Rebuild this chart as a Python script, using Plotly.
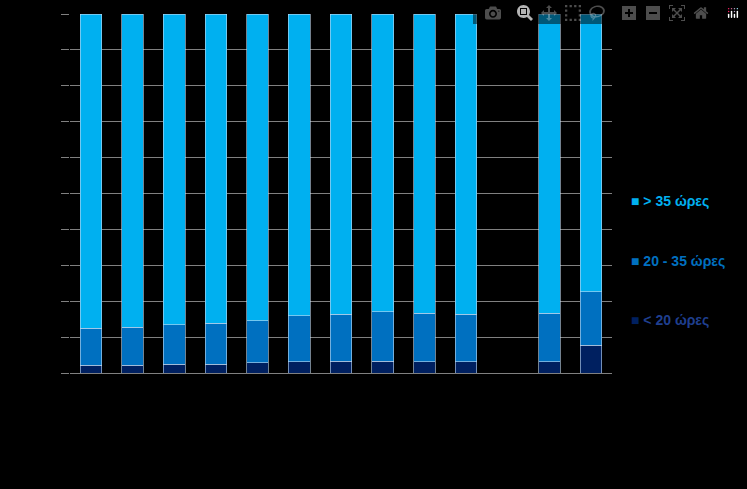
import plotly.graph_objects as go

cats = [str(i) for i in range(1, 14)]
under20 = [2.2, 2.2, 2.5, 2.5, 2.8, 3.1, 3.3, 3.3, 3.1, 3.1, None, 3.1, 7.8]
mid = [10.3, 10.6, 10.9, 11.4, 11.7, 12.8, 13.1, 13.7, 13.6, 13.3, None, 13.6, 14.8]
over35 = [None if a is None else round(100 - a - b, 1) for a, b in zip(under20, mid)]
names = ["< 20 ώρες", "20 - 35 ώρες", "> 35 ώρες"]
colors = ["#002060", "#0070C0", "#00B0F0"]
textcolors = ["#1F3F8F", "#0070C0", "#00B0F0"]

fig = go.Figure()
for n, v, c in zip(names, [under20, mid, over35], colors):
    fig.add_bar(x=cats, y=v, name=n, marker=dict(color=c, line=dict(color="#BFD8F0", width=0.6)))

L, R = 70, 612
for n, c, tc, y in zip(names, colors, textcolors, [320, 261, 201]):
    fig.add_annotation(xref="paper", yref="paper", x=(629 - L) / (R - L), y=(373 - y) / 359,
                       text=f"<span style='color:{c}'>■</span> <b>{n}</b>", showarrow=False,
                       xanchor="left", yanchor="middle", font=dict(color=tc, size=14, family="Arial"))

fig.update_layout(barmode="stack", bargap=0.48, width=747, height=489,
                  paper_bgcolor="black", plot_bgcolor="black", showlegend=False,
                  margin=dict(l=L, r=747 - R, t=14, b=116),
                  xaxis=dict(showticklabels=False, showgrid=False, linecolor="#808080", showline=True),
                  yaxis=dict(range=[0, 100], dtick=10, gridcolor="#808080", gridwidth=1,
                             showticklabels=False, zeroline=False, ticks="outside",
                             ticklen=8, tickcolor="#808080"))
fig.write_html("out.html",
               post_script="document.body.style.margin='0';document.body.style.background='black';")
